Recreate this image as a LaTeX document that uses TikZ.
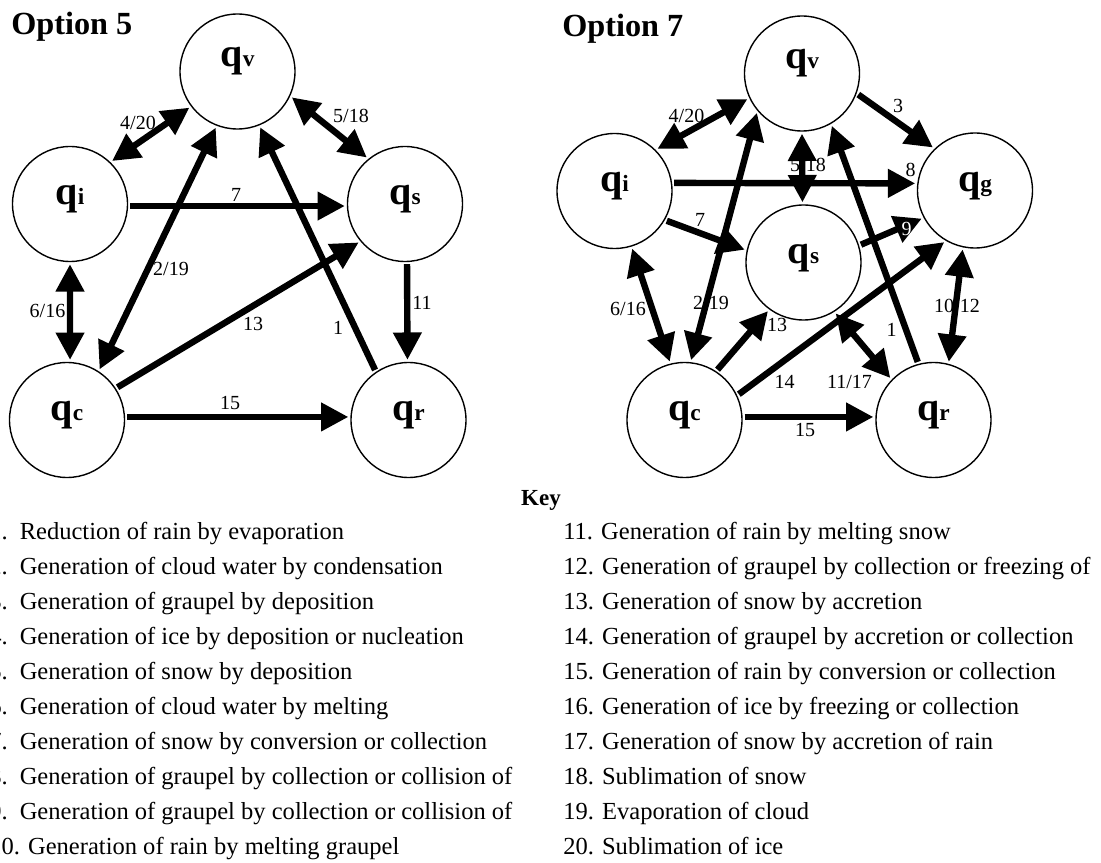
\documentclass[tikz,border=0pt]{standalone}
\usepackage{fontspec}
\setmainfont{Liberation Serif}
\usetikzlibrary{arrows.meta}
\newcommand\qlab[1]{{\fontsize{30pt}{30pt}\selectfont\bfseries q}{\fontsize{17.5pt}{17.5pt}\selectfont\bfseries #1}}
\begin{document}
\begin{tikzpicture}[x=0.75pt,y=-0.75pt,
  >={Triangle[length=20.5pt,width=20.5pt]},
  st/.style={circle,draw,line width=1.05pt,minimum size=86.25pt,inner sep=0pt},
  qt/.style={inner sep=0pt,yshift=3.4pt},
  qtv/.style={inner sep=0pt,yshift=8pt},
  lab/.style={font=\fontsize{15pt}{15pt}\selectfont,inner sep=0pt},
  ttl/.style={font=\fontsize{24.2pt}{25pt}\selectfont\bfseries,inner sep=0pt,anchor=base west},
  keyt/.style={font=\fontsize{18.4pt}{20pt}\selectfont,inner sep=0pt,anchor=base west},
  arr/.style={->,line width=4.8pt,shorten <=1.5pt,shorten >=1.5pt},
  darr/.style={<->,line width=4.8pt,shorten <=1.5pt,shorten >=1.5pt}]
\useasboundingbox (0,0) rectangle (1101,863);

% ---------- Option 5 ----------
\node[ttl] (t5) at (11,35) {Option 5};
\node[st,label={[qtv]center:\qlab{v}}] (Lqv) at (237.5,71.5) {};
\node[st,label={[qt]center:\qlab{i}}] (Lqi) at (70,204) {};
\node[st,label={[qt]center:\qlab{s}}] (Lqs) at (405,204) {};
\node[st,label={[qt]center:\qlab{c}}] (Lqc) at (67,420) {};
\node[st,label={[qt]center:\qlab{r}}] (Lqr) at (408.5,420) {};

\node[lab] (l420) at (138,122.5) {4/20};
\node[lab] (l518) at (351,115.5) {5/18};
\node[lab] (l7) at (236,195) {7};
\node[lab] (l219) at (171,269) {2/19};
\node[lab] (l616) at (47.5,311) {6/16};
\node[lab] (l11) at (422,303) {11};
\node[lab] (l13) at (253,324) {13};
\node[lab] (l1) at (338,328) {1};
\node[lab] (l15) at (230,403) {15};

\draw[darr] (Lqi.46) -- (Lqv.217);
\draw[darr] (Lqv.335) -- (Lqs.129);
\draw[darr] (Lqc.57) -- (Lqv.249);
\draw[arr] (Lqi.358) -- (Lqs.182);
\draw[darr] (Lqi.270) -- (Lqc.87);
\draw[arr] (Lqc.33) -- (Lqs.220);
\draw[arr] (Lqr.124) -- (Lqv.292);
\draw[arr] (Lqs.272) -- (Lqr.91);
\draw[arr] (Lqc.3) -- (Lqr.177);

% ---------- Option 7 ----------
\node[ttl] (t7) at (562,37) {Option 7};
\node[st,label={[qtv]center:\qlab{v}}] (Rqv) at (802,73.5) {};
\node[st,label={[qt]center:\qlab{i}}] (Rqi) at (614.5,191) {};
\node[st,label={[qt]center:\qlab{g}}] (Rqg) at (975,190.5) {};
\node[st,label={[qt]center:\qlab{s}}] (Rqs) at (803.5,262.5) {};
\node[st,label={[qt]center:\qlab{c}}] (Rqc) at (684.5,420) {};
\node[st,label={[qt]center:\qlab{r}}] (Rqr) at (933.5,420) {};

\node[lab] (r420) at (686.5,115.5) {4/20};
\node[lab] (r3) at (898,106) {3};
\node[lab] (r518) at (808,164.5) {5/18};
\node[lab] (r8) at (910.5,170) {8};
\node[lab] (r7) at (700,220) {7};
\node[lab] (r9) at (906.5,229) {9};
\node[lab] (r219) at (711,302.5) {2/19};
\node[lab] (r616) at (628,308.5) {6/16};
\node[lab] (r1012) at (957,305.5) {10/12};
\node[lab] (r13) at (777,324.5) {13};
\node[lab] (r1) at (891.5,330) {1};
\node[lab] (r14) at (784.5,381.5) {14};
\node[lab] (r1117) at (849.5,381.5) {11/17};
\node[lab] (r15) at (805,430) {15};

\draw[darr] (Rqi.45) -- (Rqv.205);
\draw[arr] (Rqv.340) -- (Rqg.134);
\draw[darr] (Rqc.84) -- (Rqv.220);
\draw[darr] (Rqv.270) -- (Rqs.91);
\draw[arr] (Rqi.8) -- (Rqg.173);
\draw[arr] (Rqi.330) -- (Rqs.168);
\draw[arr] (Rqs.17) -- (Rqg.208);
\draw[darr] (Rqi.287) -- (Rqc.104);
\draw[arr] (Rqr.105) -- (Rqv.300);
\draw[darr] (Rqg.258) -- (Rqr.75);
\draw[arr] (Rqc.57) -- (Rqs.234);
\draw[arr] (Rqc.25) -- (Rqg.240);
\draw[darr] (Rqs.302) -- (Rqr.136);
\draw[arr] (Rqc.3) -- (Rqr.177);
\node[lab,text=white] (r9w) at (r9) {9};

% ---------- Key ----------
\node[font=\fontsize{17.25pt}{18pt}\selectfont\bfseries,inner sep=0pt,anchor=base] (key) at (541,505) {Key};

\foreach \n/\t [count=\k from 0] in {
 1/Reduction of rain by evaporation,
 2/Generation of cloud water by condensation,
 3/Generation of graupel by deposition,
 4/Generation of ice by deposition or nucleation,
 5/Generation of snow by deposition,
 6/Generation of cloud water by melting,
 7/Generation of snow by conversion or collection,
 8/Generation of graupel by collection or collision of,
 9/Generation of graupel by collection or collision of}
{
 \node[keyt] (kn\n) at (-11,539+35.1*\k) {\n.};
 \node[keyt] (kt\n) at (19.5,539+35.1*\k) {\t};
}
\node[keyt] (kt10) at (-11,539+35.1*9) {10. Generation of rain by melting graupel};

\foreach \t [count=\k from 0] in {
 11. Generation of rain by melting snow,
 12. Generation of graupel by collection or freezing of,
 13. Generation of snow by accretion,
 14. Generation of graupel by accretion or collection,
 15. Generation of rain by conversion or collection,
 16. Generation of ice by freezing or collection,
 17. Generation of snow by accretion of rain,
 18. Sublimation of snow,
 19. Evaporation of cloud,
 20. Sublimation of ice}
{
 \node[keyt] (kr\k) at (563,539+35.1*\k) {\t};
}
\end{tikzpicture}
\end{document}
